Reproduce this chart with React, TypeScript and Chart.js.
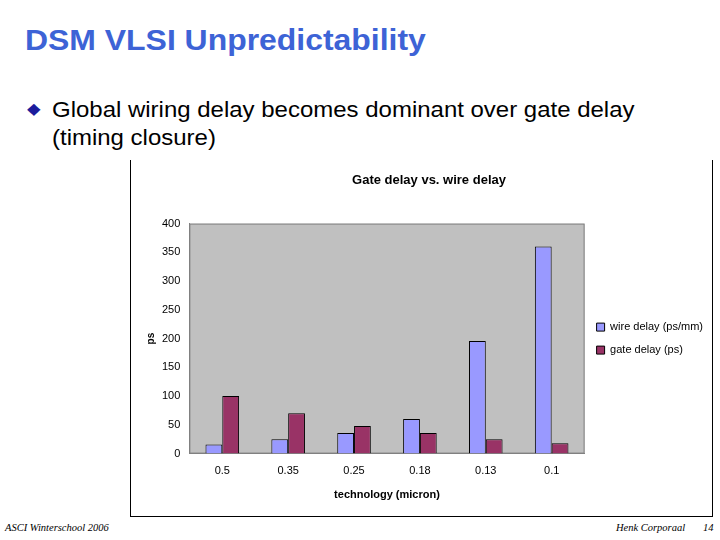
import React, { useEffect, useRef } from "react";
import { Chart, registerables } from "chart.js";

Chart.register(...registerables);

const categories = ["0.5", "0.35", "0.25", "0.18", "0.13", "0.1"];
const wireDelay = [16, 25, 36, 60, 196, 360];
const gateDelay = [100, 70, 48, 36, 25, 18];
const seriesNames = ["wire delay (ps/mm)", "gate delay (ps)"];
const chartTitle = "Gate delay vs. wire delay";
const xTitle = "technology (micron)";
const yTitle = "ps";
const yMax = 400;
const yStep = 50;

const plotBg = {
  id: "plotBg",
  beforeDraw(chart: any) {
    const { ctx, chartArea } = chart;
    if (!chartArea) return;
    ctx.save();
    ctx.fillStyle = "#C0C0C0";
    ctx.fillRect(chartArea.left, chartArea.top, chartArea.right - chartArea.left, chartArea.bottom - chartArea.top);
    ctx.strokeStyle = "#808080";
    ctx.lineWidth = 1;
    ctx.strokeRect(chartArea.left + 0.5, chartArea.top + 0.5, chartArea.right - chartArea.left - 1, chartArea.bottom - chartArea.top - 1);
    ctx.restore();
  },
};

function BarChart() {
  const ref = useRef<HTMLCanvasElement>(null);
  useEffect(() => {
    if (!ref.current) return;
    const font = "Arial, 'Liberation Sans', sans-serif";
    const chart = new Chart(ref.current, {
      type: "bar",
      data: {
        labels: categories,
        datasets: [
          {
            label: seriesNames[0],
            data: wireDelay,
            backgroundColor: "#9999FF",
            borderColor: "#000000",
            borderWidth: 1,
            borderSkipped: "bottom",
          },
          {
            label: seriesNames[1],
            data: gateDelay,
            backgroundColor: "#993366",
            borderColor: "#000000",
            borderWidth: 1,
            borderSkipped: "bottom",
          },
        ],
      },
      options: {
        animation: false,
        responsive: false,
        maintainAspectRatio: false,
        layout: { padding: { left: 14, right: 0, top: 0, bottom: 12 } },
        datasets: { bar: { categoryPercentage: 0.51, barPercentage: 1.0 } },
        plugins: {
          title: {
            display: true,
            text: chartTitle,
            color: "#000000",
            font: { family: font, size: 13, weight: "bold" },
            padding: { top: 13, bottom: 35 },
          },
          legend: {
            position: "right",
            fullSize: false,
            align: "center",
            labels: {
              boxWidth: 8,
              boxHeight: 8,
              padding: 12,
              color: "#000000",
              font: { family: font, size: 11 },
            },
          },
          tooltip: { enabled: false },
        },
        scales: {
          x: {
            grid: { display: false, drawTicks: false },
            border: { color: "#808080" },
            ticks: {
              color: "#000000",
              padding: 11,
              font: { family: font, size: 11 },
            },
            title: {
              display: true,
              text: xTitle,
              color: "#000000",
              padding: { top: 0, bottom: 0 },
              font: { family: font, size: 11, weight: "bold" },
            },
          },
          y: {
            min: 0,
            max: yMax,
            grid: { display: false, drawTicks: false },
            border: { color: "#808080" },
            ticks: {
              stepSize: yStep,
              color: "#000000",
              padding: 9,
              font: { family: font, size: 11 },
            },
            title: {
              display: true,
              text: yTitle,
              color: "#000000",
              padding: { top: 0, bottom: -4 },
              font: { family: font, size: 10, weight: "bold" },
            },
          },
        },
      },
      plugins: [plotBg],
    });
    return () => chart.destroy();
  }, []);
  return <canvas ref={ref} width={582} height={354} style={{ display: "block" }} />;
}

export default function App() {
  const sans = "Arial, 'Liberation Sans', Helvetica, sans-serif";
  const serif = "'Liberation Serif', 'DejaVu Serif', serif";
  return (
    <div style={{ position: "absolute", left: 0, top: 0, width: 720, height: 540, background: "#FFFFFF", overflow: "hidden" }}>
      <div style={{ position: "absolute", left: 25, top: 23, fontFamily: sans, fontWeight: "bold", fontSize: 30, color: "#3D63D6", whiteSpace: "nowrap", transform: "scaleX(1.064)", transformOrigin: "left top" }}>
        DSM VLSI Unpredictability
      </div>
      <div style={{ position: "absolute", left: 27, top: 101, fontSize: 16, color: "#1C1C9C", lineHeight: "16px", fontFamily: "'DejaVu Sans', sans-serif", transform: "scaleX(1.1)", transformOrigin: "left top" }}>
        ◆
      </div>
      <div style={{ position: "absolute", left: 52, top: 96, fontFamily: sans, fontSize: 22, color: "#000000", lineHeight: "28px", whiteSpace: "nowrap", transform: "scaleX(1.09)", transformOrigin: "left top" }}>
        Global wiring delay becomes dominant over gate delay
        <br />
        (timing closure)
      </div>
      <div style={{ position: "absolute", left: 130, top: 160, width: 583, height: 357, borderLeft: "1px solid #000", borderRight: "1px solid #000", borderBottom: "1px solid #000", boxSizing: "border-box" }} />
      <div style={{ position: "absolute", left: 131, top: 160 }}>
        <BarChart />
      </div>
      <div style={{ position: "absolute", left: 5, top: 522, fontFamily: serif, fontStyle: "italic", fontSize: 10.5, color: "#000" }}>
        ASCI Winterschool 2006
      </div>
      <div style={{ position: "absolute", left: 616, top: 522, fontFamily: serif, fontStyle: "italic", fontSize: 10.5, color: "#000" }}>
        Henk Corporaal
      </div>
      <div style={{ position: "absolute", left: 703, top: 522, fontFamily: serif, fontStyle: "italic", fontSize: 10.5, color: "#000" }}>
        14
      </div>
    </div>
  );
}
